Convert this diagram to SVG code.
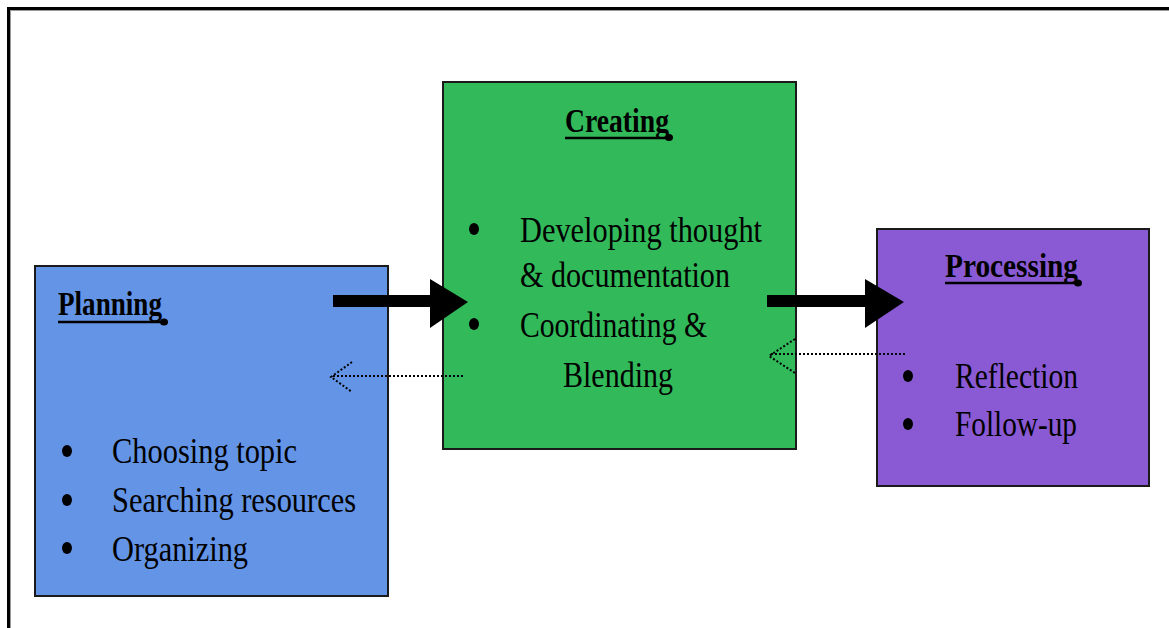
<svg xmlns="http://www.w3.org/2000/svg" width="1169" height="628" viewBox="0 0 1169 628">
  <style>
    .box { stroke: #1a1a1a; stroke-width: 2; }
    .title { font-family: "Liberation Serif", "Times New Roman", serif; font-weight: bold; font-size: 33px; fill: #000; }
    .item { font-family: "Liberation Serif", "Times New Roman", serif; font-size: 35px; fill: #000; }
    .uline { stroke: #000; stroke-width: 2.5; }
    .bullet { fill: #000; }
    .thick { fill: #000; }
    .dotted { fill: none; stroke: #000; stroke-width: 2; stroke-dasharray: 2 2; }
  </style>

  <rect width="1169" height="628" fill="#ffffff"/>

  <!-- outer frame (top and left edges) -->
  <g id="frame">
    <line x1="7" y1="10.5" x2="1169" y2="10.5" stroke="#9a9a9a" stroke-width="1"/>
    <line x1="10.5" y1="10" x2="10.5" y2="628" stroke="#9a9a9a" stroke-width="1"/>
    <line x1="7" y1="8.5" x2="1169" y2="8.5" stroke="#000" stroke-width="3"/>
    <line x1="8.5" y1="7" x2="8.5" y2="628" stroke="#000" stroke-width="3"/>
  </g>

  <g id="planning">
    <rect class="box" x="35" y="266" width="353" height="330" fill="#6394e6"/>
    <text class="title" x="58" y="315" textLength="104" lengthAdjust="spacingAndGlyphs">Planning</text>
    <line class="uline" x1="58" y1="322" x2="163" y2="322"/>
    <ellipse cx="164" cy="322" rx="4" ry="3.5"/>
    <ellipse class="bullet" cx="67" cy="451" rx="5" ry="6"/>
    <ellipse class="bullet" cx="67" cy="500" rx="5" ry="6"/>
    <ellipse class="bullet" cx="67" cy="548" rx="5" ry="6"/>
    <text class="item" x="112" y="463" textLength="185" lengthAdjust="spacingAndGlyphs">Choosing topic</text>
    <text class="item" x="112" y="512" textLength="244" lengthAdjust="spacingAndGlyphs">Searching resources</text>
    <text class="item" x="112" y="561" textLength="136" lengthAdjust="spacingAndGlyphs">Organizing</text>
  </g>

  <g id="creating">
    <rect class="box" x="443" y="82" width="353" height="367" fill="#32ba5a"/>
    <text class="title" x="565" y="132" textLength="104" lengthAdjust="spacingAndGlyphs">Creating</text>
    <line class="uline" x1="565" y1="138" x2="669" y2="138"/>
    <ellipse cx="669" cy="137.5" rx="4" ry="3.5"/>
    <ellipse class="bullet" cx="474" cy="229" rx="5" ry="6"/>
    <ellipse class="bullet" cx="474" cy="324" rx="5" ry="6"/>
    <text class="item" x="520" y="242" textLength="242" lengthAdjust="spacingAndGlyphs">Developing thought</text>
    <text class="item" x="520" y="287" textLength="210" lengthAdjust="spacingAndGlyphs">&amp; documentation</text>
    <text class="item" x="520" y="337" textLength="187" lengthAdjust="spacingAndGlyphs">Coordinating &amp;</text>
    <text class="item" x="563" y="387" textLength="110" lengthAdjust="spacingAndGlyphs">Blending</text>
  </g>

  <g id="processing">
    <rect class="box" x="877" y="229" width="272" height="257" fill="#8a5ad4"/>
    <text class="title" x="945" y="277" textLength="133" lengthAdjust="spacingAndGlyphs">Processing</text>
    <line class="uline" x1="945" y1="283" x2="1078" y2="283"/>
    <ellipse cx="1078" cy="283" rx="4" ry="3.5"/>
    <ellipse class="bullet" cx="908" cy="376" rx="5" ry="6"/>
    <ellipse class="bullet" cx="908" cy="424" rx="5" ry="6"/>
    <text class="item" x="955" y="388" textLength="123" lengthAdjust="spacingAndGlyphs">Reflection</text>
    <text class="item" x="955" y="436" textLength="122" lengthAdjust="spacingAndGlyphs">Follow-up</text>
  </g>

  <g id="connectors">
    <!-- forward flow: bold block arrows -->
    <polygon class="thick" points="333,295 430,295 430,279 468,302 430,328 430,307 333,307"/>
    <polygon class="thick" points="767,295 865,295 865,279 904,302 865,328 865,307 767,307"/>
    <!-- feedback: dotted open arrows -->
    <line class="dotted" x1="463" y1="376" x2="331" y2="376"/>
    <polyline class="dotted" points="352,362 331,377 352,392"/>
    <line class="dotted" x1="905" y1="354" x2="770" y2="354"/>
    <polyline class="dotted" points="795,339 769,356 795,373"/>
  </g>
</svg>
